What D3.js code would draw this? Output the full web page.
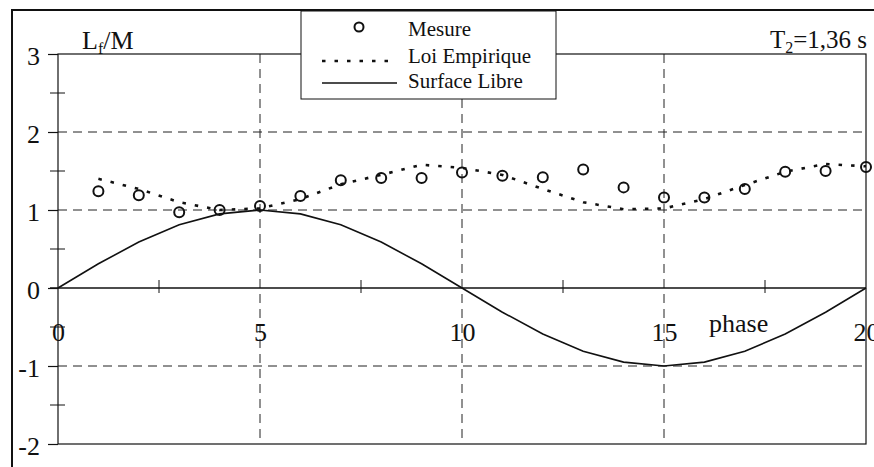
<!DOCTYPE html>
<html>
<head>
<meta charset="utf-8">
<script src="https://cdn.jsdelivr.net/npm/d3@7"></script>
<style>
  body { margin: 0; background: #fff; }
  svg { display: block; font-family: "Liberation Serif", "DejaVu Serif", serif; }
</style>
</head>
<body>
<div id="chart"></div>
<script>
(function(){
// values
const phase = d3.range(0, 21);
const mesurePhase = d3.range(1, 21);
const mesure = [1.24, 1.19, 0.97, 1.00, 1.05, 1.18, 1.38, 1.41, 1.41, 1.48,
                1.44, 1.42, 1.52, 1.29, 1.16, 1.16, 1.27, 1.49, 1.50, 1.55];
const loiEmpirique = [1.40, 1.27, 1.10, 1.00, 1.02, 1.14, 1.33, 1.45, 1.58, 1.54,
                      1.45, 1.27, 1.10, 1.01, 1.02, 1.14, 1.32, 1.49, 1.59, 1.56];
const surfaceLibre = [0, 0.31, 0.59, 0.81, 0.95, 1.00, 0.95, 0.81, 0.59, 0.31, 0,
                      -0.31, -0.59, -0.81, -0.95, -1.00, -0.95, -0.81, -0.59, -0.31, 0];
const yTicks = [-2, -1, 0, 1, 2, 3];
const yMinorTicks = [-1.5, -0.5, 0.5, 1.5, 2.5];
const xTicks = [0, 5, 10, 15, 20];
const xMinorTicks = [2.5, 7.5, 12.5, 17.5];
const legendLabels = ["Mesure", "Loi Empirique", "Surface Libre"];

const width = 874, height = 467;
const ink = "#111";

const svg = d3.select("#chart").append("svg")
  .attr("width", width)
  .attr("height", height);

const x = d3.scaleLinear().domain([0, 20]).range([58, 866]);
const y = d3.scaleLinear().domain([-2, 3]).range([444, 54]);

// outer frame (only left and top visible)
svg.append("path")
  .attr("d", `M12,${height + 5}V10H${width + 5}`)
  .attr("fill", "none")
  .attr("stroke", ink)
  .attr("stroke-width", 2);

// dashed grid
svg.selectAll(".hgrid")
  .data(yTicks.filter(d => d !== 0 && d !== 3 && d !== -2))
  .enter().append("line")
  .attr("x1", x(0)).attr("x2", x(20))
  .attr("y1", d => y(d)).attr("y2", d => y(d))
  .attr("stroke", "#222")
  .attr("stroke-dasharray", "9,6");

svg.selectAll(".vgrid")
  .data(xTicks.filter(d => d !== 0 && d !== 20))
  .enter().append("line")
  .attr("x1", d => x(d)).attr("x2", d => x(d))
  .attr("y1", y(3)).attr("y2", y(-2))
  .attr("stroke", "#222")
  .attr("stroke-dasharray", "9,6");

// plot frame
svg.append("rect")
  .attr("x", x(0)).attr("y", y(3))
  .attr("width", x(20) - x(0)).attr("height", y(-2) - y(3))
  .attr("fill", "none")
  .attr("stroke", ink)
  .attr("stroke-width", 1.2);

// y axis
const yAxis = svg.append("g")
  .attr("transform", `translate(${x(0)},0)`)
  .call(d3.axisLeft(y).tickValues(yTicks).tickSize(10).tickPadding(8)
    .tickFormat(d => String(d)));
yAxis.select(".domain").remove();
yAxis.selectAll("line").attr("stroke", ink).attr("stroke-width", 1.2);
yAxis.selectAll("text")
  .attr("fill", ink)
  .attr("dy", "0.42em")
  .style("font-size", "26px")
  .style("font-family", "Liberation Serif, serif");

svg.selectAll(".yminor")
  .data(yMinorTicks)
  .enter().append("line")
  .attr("x1", x(0) - 8).attr("x2", x(0) + 7)
  .attr("y1", d => y(d)).attr("y2", d => y(d))
  .attr("stroke", ink);

// x axis at zero
const xAxis = svg.append("g")
  .attr("transform", `translate(0,${y(0)})`)
  .call(d3.axisBottom(x).tickValues(xTicks).tickSize(0).tickPadding(35)
    .tickFormat(d => String(d)));
xAxis.select(".domain").remove();
xAxis.selectAll("text")
  .attr("fill", ink)
  .style("font-size", "26px")
  .style("font-family", "Liberation Serif, serif");

svg.append("line")
  .attr("x1", x(0) - 8).attr("x2", x(20))
  .attr("y1", y(0)).attr("y2", y(0))
  .attr("stroke", ink)
  .attr("stroke-width", 1.5);

svg.selectAll(".xminor")
  .data(xMinorTicks)
  .enter().append("line")
  .attr("x1", d => x(d)).attr("x2", d => x(d))
  .attr("y1", y(0) - 8).attr("y2", y(0) + 5)
  .attr("stroke", ink);

// series
const surfLine = d3.line()
  .x((d, i) => x(phase[i]))
  .y(d => y(d));
svg.append("path")
  .datum(surfaceLibre)
  .attr("d", surfLine)
  .attr("fill", "none")
  .attr("stroke", ink)
  .attr("stroke-width", 1.6);

const loiLine = d3.line()
  .x((d, i) => x(mesurePhase[i]))
  .y(d => y(d));
svg.append("path")
  .datum(loiEmpirique)
  .attr("d", loiLine)
  .attr("fill", "none")
  .attr("stroke", ink)
  .attr("stroke-width", 2.6)
  .attr("stroke-dasharray", "3.5,9");

svg.selectAll(".mesure")
  .data(mesure)
  .enter().append("circle")
  .attr("cx", (d, i) => x(mesurePhase[i]))
  .attr("cy", d => y(d))
  .attr("r", 5)
  .attr("fill", "none")
  .attr("stroke", ink)
  .attr("stroke-width", 2);

// texts
svg.append("text")
  .attr("x", 82).attr("y", 49)
  .attr("fill", ink)
  .style("font-size", "26px")
  .html('L<tspan dy="5" font-size="16">f</tspan><tspan dy="-5">/M</tspan>');

svg.append("text")
  .attr("x", 867).attr("y", 48)
  .attr("text-anchor", "end")
  .attr("fill", ink)
  .style("font-size", "25px")
  .html('T<tspan dy="5" font-size="16">2</tspan><tspan dy="-5">=1,36 s</tspan>');

svg.append("text")
  .attr("x", 709).attr("y", 332)
  .attr("fill", ink)
  .style("font-size", "26px")
  .text("phase");

// legend
const legend = svg.append("g");
legend.append("rect")
  .attr("x", 301).attr("y", 11)
  .attr("width", 255).attr("height", 88)
  .attr("fill", "#fff")
  .attr("stroke", ink)
  .attr("stroke-width", 1);

const rowY = [27, 61, 83];
const textY = [36, 63, 88];
legend.append("circle")
  .attr("cx", 359).attr("cy", rowY[0]).attr("r", 4.5)
  .attr("fill", "none").attr("stroke", ink).attr("stroke-width", 2);
legend.append("line")
  .attr("x1", 322).attr("x2", 396)
  .attr("y1", rowY[1]).attr("y2", rowY[1])
  .attr("stroke", ink).attr("stroke-width", 2.6)
  .attr("stroke-dasharray", "3.5,9");
legend.append("line")
  .attr("x1", 322).attr("x2", 397)
  .attr("y1", rowY[2]).attr("y2", rowY[2])
  .attr("stroke", ink).attr("stroke-width", 1.6);

legend.selectAll(".ltext")
  .data(legendLabels)
  .enter().append("text")
  .attr("x", 408)
  .attr("y", (d, i) => textY[i])
  .attr("fill", ink)
  .style("font-size", "21px")
  .text(d => d);
})();
</script>
</body>
</html>
